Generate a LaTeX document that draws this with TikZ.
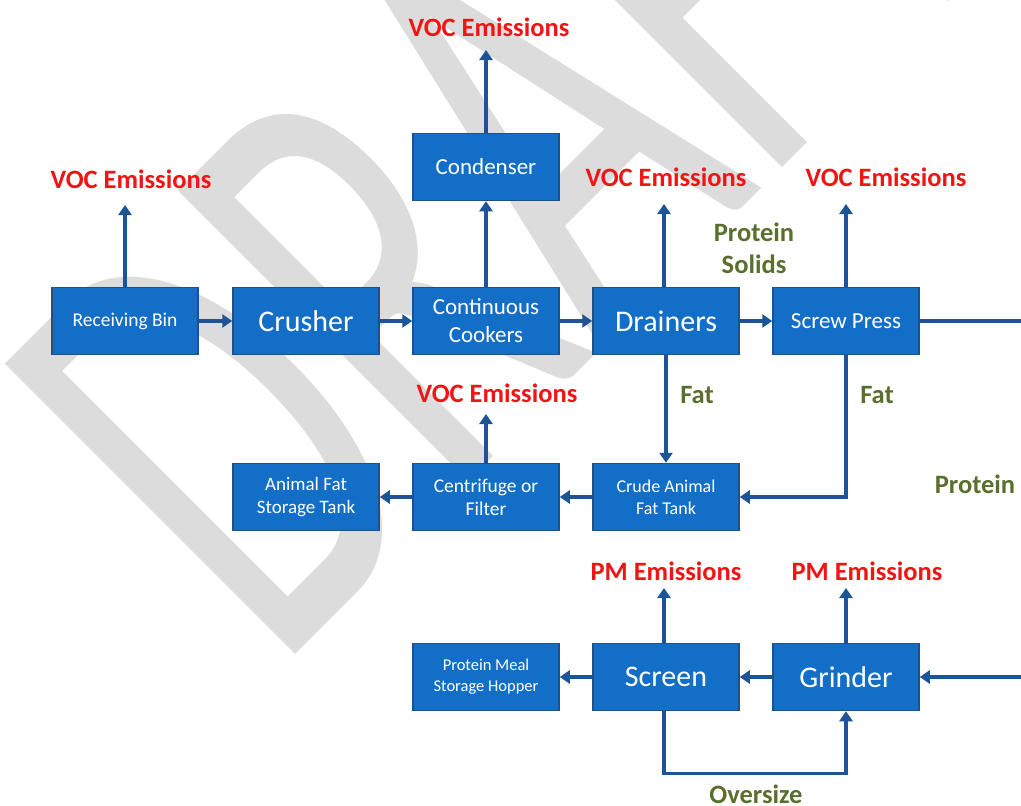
\documentclass[tikz,border=0pt]{standalone}
\usepackage{fontspec}
\setmainfont{Carlito}
\usetikzlibrary{arrows.meta}
\definecolor{boxfill}{RGB}{18,110,198}
\definecolor{boxline}{RGB}{30,80,140}
\definecolor{arrowc}{RGB}{28,84,150}
\definecolor{vocred}{RGB}{240,20,20}
\definecolor{lblgreen}{RGB}{88,112,44}
\definecolor{wmgray}{RGB}{220,220,220}
\begin{document}
\begin{tikzpicture}[x=1pt,y=-1pt,
  proc/.style={draw=boxline, line width=1.5pt, fill=boxfill, text=white, minimum width=146pt, minimum height=67pt, inner sep=0pt, align=center},
  big/.style={font=\fontsize{30}{32}\selectfont},
  mid/.style={font=\fontsize{23}{28}\selectfont},
  small/.style={font=\fontsize{19.5}{23}\selectfont},
  tiny/.style={font=\fontsize{16.5}{21}\selectfont},
  emis/.style={text=vocred, font=\bfseries\fontsize{26.5}{28}\selectfont, inner sep=0pt, anchor=base},
  flow/.style={text=lblgreen, font=\bfseries\fontsize{26.5}{28}\selectfont, inner sep=0pt, anchor=base},
  arr/.style={draw=arrowc, line width=3.5pt, -{Triangle[width=13pt,length=10pt]}},
  ln/.style={draw=arrowc, line width=3.5pt},
]
\useasboundingbox (0,0) rectangle (1021,806);
\clip (0,0) rectangle (1021,806);
\fill[white] (0,0) rectangle (1021,806);
% watermark
\begin{scope}[shift={(276,674)}, rotate=45, xscale=0.62]
\node[transform shape, text=wmgray, font=\fontsize{640}{640}\selectfont, anchor=base west, inner sep=0pt] (wm) at (0,0) {DRAFT};
\end{scope}
% boxes
\node[proc, small] (rb) at (125,321) {Receiving Bin};
\node[proc, big] (cr) at (306,321) {Crusher};
\node[proc, mid] (cc) at (486,321) {Continuous\\Cookers};
\node[proc, big] (dr) at (666,321) {Drainers};
\node[proc, mid] (sp) at (846,321) {Screw Press};
\node[proc, mid] (cd) at (486,167) {Condenser};
\node[proc, small, font=\fontsize{19}{23}\selectfont] (afs) at (306,497) {Animal Fat\\Storage Tank};
\node[proc, small] (cf) at (486,497) {Centrifuge or\\Filter};
\node[proc, small, font=\fontsize{18}{22}\selectfont] (caf) at (666,497) {Crude Animal\\Fat Tank};
\node[proc, tiny] (pm) at (486,677) {Protein Meal\\Storage Hopper};
\node[proc, big] (sc) at (666,677) {Screen};
\node[proc, big] (gr) at (846,677) {Grinder};
% labels
\node[emis] (v1) at (489,36) {VOC Emissions};
\node[emis] (v2) at (131,188) {VOC Emissions};
\node[emis] (v3) at (666,186) {VOC Emissions};
\node[emis] (v4) at (886,186) {VOC Emissions};
\node[emis] (v5) at (497,402) {VOC Emissions};
\node[emis] (p1) at (666,580) {PM Emissions};
\node[emis] (p2) at (867,580) {PM Emissions};
\node[flow] (ps1) at (754,241) {Protein};
\node[flow] (ps2) at (754,273) {Solids};
\node[flow] (f1) at (697,403) {Fat};
\node[flow] (f2) at (877,403) {Fat};
\node[flow] (pr) at (975,493) {Protein};
\node[flow] (ov) at (756,803) {Oversize};
% free ends
\coordinate (e1) at (486,50);
\coordinate (e2) at (125,205);
\coordinate (e3) at (664,204);
\coordinate (e4) at (846,204);
\coordinate (e5) at (486,414);
\coordinate (e6) at (664,588);
\coordinate (e7) at (846,588);
\coordinate (rt) at (1021,321);
\coordinate (rb2) at (1021,677);
% connectors
\draw[arr] (rb) -- (cr);
\draw[arr] (cr) -- (cc);
\draw[arr] (cc) -- (dr);
\draw[arr] (dr) -- (sp);
\draw[arr] (cc) -- (cd);
\draw[arr] (cd) -- (e1);
\draw[arr] (rb) -- (e2);
\draw[arr] (dr.north -| e3) -- (e3);
\draw[arr] (sp) -- (e4);
\draw[ln] (sp) -- (rt);
\draw[arr] (dr) -- (caf);
\draw[arr] (sp.south) |- (caf.east);
\draw[arr] (caf) -- (cf);
\draw[arr] (cf) -- (afs);
\draw[arr] (cf) -- (e5);
\draw[arr] (rb2) -- (gr);
\draw[arr] (gr) -- (sc);
\draw[arr] (sc) -- (pm);
\draw[arr] (sc.north -| e6) -- (e6);
\draw[arr] (gr) -- (e7);
\draw[arr] (sc.south -| e6) -- ++(0,62) -| (gr.south);
\end{tikzpicture}
\end{document}
